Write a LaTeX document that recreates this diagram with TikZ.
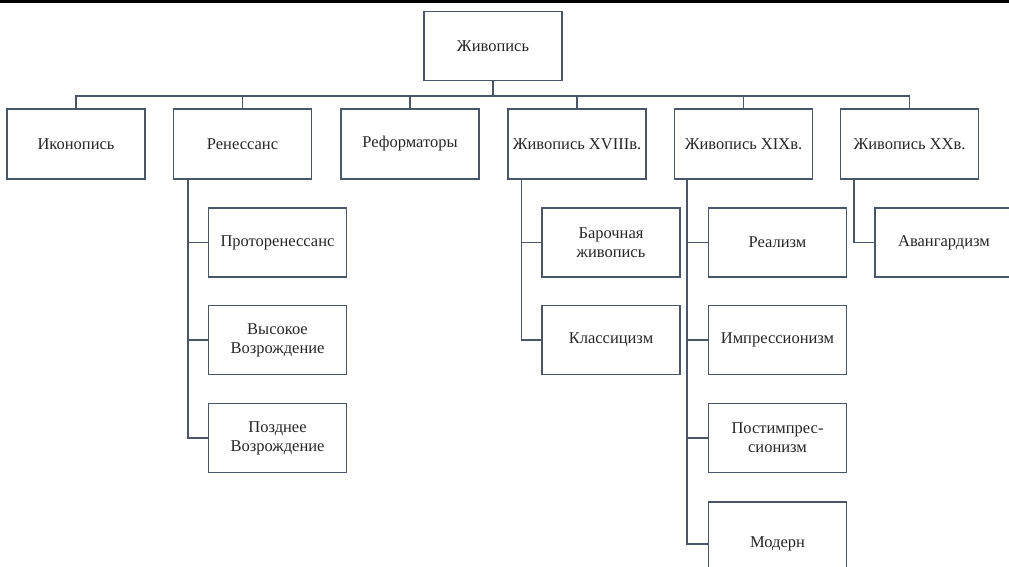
\documentclass[tikz,border=0pt]{standalone}
\usepackage{fontspec}
\setmainfont{Liberation Serif}
\usetikzlibrary{calc}

\definecolor{linegrey}{HTML}{4A5568}
\definecolor{textgrey}{HTML}{262626}

\tikzset{
  box/.style={draw=linegrey, line width=1.3pt, minimum width=138pt, minimum height=69pt,
    inner sep=0pt, align=center, text=textgrey, font=\fontsize{16.5}{19}\selectfont},
  topbox/.style={box, minimum height=70pt},
  link/.style={draw=linegrey, line width=1.3pt}
}

\begin{document}
\begin{tikzpicture}[x=1pt, y=-1pt]
  \useasboundingbox (0,0) rectangle (1009,567);
  \begin{scope}
  \clip (0,0) rectangle (1009,567);
  % Top rule
  \draw[line width=3pt] (0,1.5) -- (1009,1.5);

  % Coordinates
  \coordinate (bus) at (493.00, 96.00);

  % Nodes
  \node[box] (root) at (493.00, 46.00) {Живопись};
  \node[topbox] (ikon) at (76.00, 144.00) {Иконопись};
  \node[topbox] (ren) at (242.50, 144.00) {Ренессанс};
  \node[topbox] (ref) at (410.00, 144.00) {Реформаторы};
  \node[topbox] (xviii) at (577.00, 144.00) {Живопись XVIIIв.};
  \node[topbox] (xix) at (743.50, 144.00) {Живопись XIXв.};
  \node[topbox] (xx) at (909.50, 144.00) {Живопись XXв.};

  \node[box] (proto) at (277.50, 242.50) {Проторенессанс};
  \node[box] (high) at (277.50, 340.00) {Высокое\\Возрождение};
  \node[box] (late) at (277.50, 438.00) {Позднее\\Возрождение};

  \node[box] (baroque) at (611.00, 242.50) {Барочная\\живопись};
  \node[box] (classic) at (611.00, 340.00) {Классицизм};

  \node[box] (real) at (777.50, 242.50) {Реализм};
  \node[box] (impr) at (777.50, 340.00) {Импрессионизм};
  \node[box] (postimpr) at (777.50, 438.00) {Постимпрес-\\сионизм};
  \node[box, minimum height=84pt] (modern) at (777.50, 544.00) {Модерн};

  \node[box] (avant) at (944.00, 242.50) {Авангардизм};

  % Drawing
  \draw[link] (root.south) -- (bus);
  \foreach \n in {ikon, ren, ref, xviii, xix, xx}
    \draw[link] (\n.north) |- (bus);

  \foreach \n in {proto, high, late}
    \draw[link] ([xshift=15pt]ren.south west) |- (\n.west);
  \foreach \n in {baroque, classic}
    \draw[link] ([xshift=14pt]xviii.south west) |- (\n.west);
  \foreach \n in {real, impr, postimpr, modern}
    \draw[link] ([xshift=13pt]xix.south west) |- (\n.west);
  \draw[link] ([xshift=14pt]xx.south west) |- (avant.west);
  \end{scope}
\end{tikzpicture}
\end{document}
